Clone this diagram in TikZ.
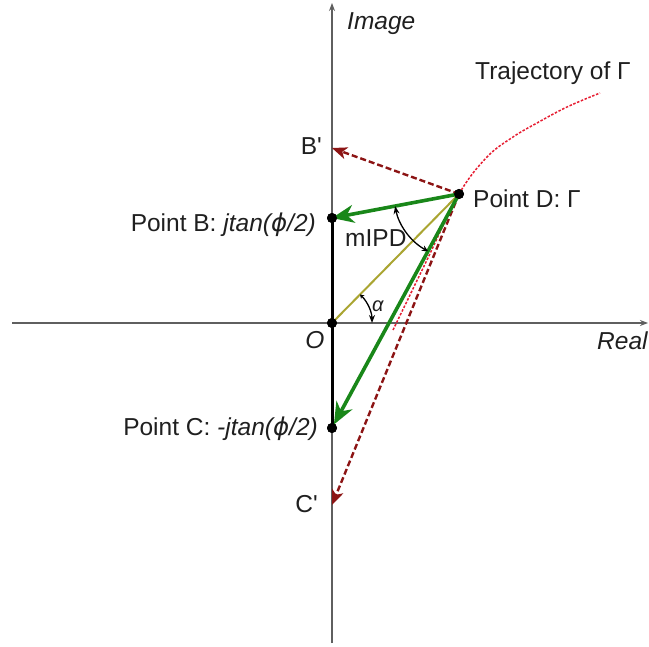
\documentclass[tikz,border=0pt]{standalone}
\usepackage{fontspec}
\setmainfont{Liberation Sans}
\newfontfamily\phifont{DejaVu Sans}
\newfontfamily\qfont{Liberation Sans}[Ligatures=TeXOff]
\usetikzlibrary{arrows.meta}
\definecolor{axgray}{RGB}{95,95,95}
\definecolor{vgreen}{RGB}{25,135,25}
\definecolor{volive}{RGB}{170,165,50}
\definecolor{vdred}{RGB}{140,20,20}
\definecolor{vtraj}{RGB}{230,30,50}
\newcommand{\myphi}{{\phifont\itshape ϕ}}
\newcommand{\apos}{{\qfont '}}
\tikzset{
  axisline/.style={draw=axgray, line width=1.4pt, -{Stealth[length=8pt,width=6pt]}},
  dot/.style={circle, fill=black, inner sep=0pt, minimum size=10pt},
  greenarrow/.style={draw=vgreen, line width=3.6pt, -{Stealth[length=22pt,width=18pt,inset=7pt]}},
  redarrow/.style={draw=vdred, line width=2.4pt, dash pattern=on 6pt off 3pt, -{Stealth[length=15pt,width=12pt,inset=4pt]}},
  trajline/.style={draw=vtraj, line width=1.5pt, dash pattern=on 2.5pt off 1.6pt},
  oliveline/.style={draw=volive, line width=2pt},
  anglearc/.style={draw=black, line width=1.3pt},
  lbl/.style={font=\fontsize{24.5}{29}\selectfont, inner sep=0pt, text=black!88}
}
\begin{document}
\begin{tikzpicture}[x=1pt,y=-1pt]
\useasboundingbox (0,0) rectangle (649,647);
% points
\coordinate (XL) at (12,323);
\coordinate (XR) at (648,323);
\coordinate (YB) at (332,643);
\coordinate (YT) at (332,3);
\coordinate (Bp) at (332,148);
\coordinate (Cp) at (332,505);
% axes
\draw[axisline] (XL) -- (XR);
\draw[axisline] (YB) -- (YT);
% dots
\node[dot] (O) at (332,323) {};
\node[dot] (B) at (332,218) {};
\node[dot] (C) at (332,428) {};
\node[dot] (D) at (459,194) {};
% thick segment
\draw[line width=3pt, black] (B.center) -- (C.center);
% trajectory
\draw[trajline] plot[smooth, tension=0.6] coordinates {(393,330) (426,262) (459,194) (487,157) (513,137) (537,123) (567,107) (600,93)};
% olive line
\draw[oliveline] (O.center) -- (D.center);
% dashed red arrows
\draw[redarrow] (D.center) -- (Bp);
\draw[redarrow] (D.center) -- (Cp);
% green arrows
\draw[greenarrow] (D.center) -- (B.center);
\draw[greenarrow, shorten >=4pt] (D.center) -- (C.center);
% mIPD arc
\draw[anglearc, {Stealth[length=8pt,width=6pt]}-{Stealth[length=6pt,width=6pt]}] (D.center) ++(169.3:65) arc[start angle=169.3, end angle=118.5, radius=65];
% alpha arc
\draw[anglearc, {Stealth[length=4pt,width=5pt]}-{Stealth[length=8pt,width=6pt]}] (O.center) ++(-45.5:40) arc[start angle=-45.5, end angle=0, radius=40];
% redraw dots on top
\fill (O.center) circle (5pt);
\fill (B.center) circle (5pt);
\fill (C.center) circle (5pt);
\fill (D.center) circle (5pt);
% labels
\node[lbl, anchor=base west] (limg) at (347,30) {\textit{Image}};
\node[lbl, anchor=base west] (ltraj) at (475,80) {Trajectory of Γ};
\node[lbl, anchor=base east] (lbp) at (322,155) {B\apos};
\node[lbl, anchor=base east] (lb) at (316,232) {Point B: \textit{jtan(\myphi/2)}};
\node[lbl, anchor=base west] (ld) at (473,208) {Point D: Γ};
\node[lbl, anchor=base west] (lmipd) at (345,247) {mIPD};
\node[lbl, font=\fontsize{20}{24}\selectfont] (lalpha) at (378,306) {\textit{α}};
\node[lbl] (lo) at (315,340) {\textit{O}};
\node[lbl, anchor=base west] (lreal) at (597,350) {\textit{Real}};
\node[lbl, anchor=base east] (lc) at (318,436) {Point C: \textit{-jtan(\myphi/2)}};
\node[lbl, anchor=base east] (lcp) at (318,513) {C\apos};
\end{tikzpicture}
\end{document}
